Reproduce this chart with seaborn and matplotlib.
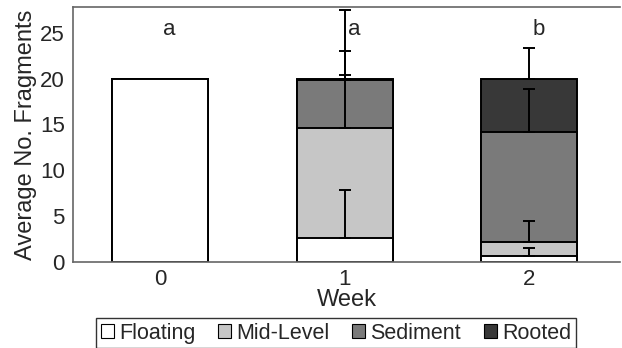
import numpy as np
import pandas as pd
import seaborn as sns
import matplotlib.pyplot as plt
from matplotlib.patches import Patch

# Data
weeks = ['0', '1', '2']
floating = [20.0, 2.6, 0.6]
mid_level = [0.0, 12.0, 1.6]
sediment = [0.0, 5.2, 12.0]
rooted = [0.0, 0.2, 5.8]

floating_err = [0.0, 5.2, 0.9]
mid_err = [0.0, 5.8, 2.3]
sediment_err = [0.0, 3.2, 4.7]
rooted_err = [0.0, 7.5, 3.3]

letters = ['a', 'a', 'b']
layers = ['Floating', 'Mid-Level', 'Sediment', 'Rooted']
colors = ['#ffffff', '#c6c6c6', '#7a7a7a', '#383838']

sns.set_style('white')
plt.rcParams['font.family'] = ['Liberation Sans', 'DejaVu Sans']

values = np.array([floating, mid_level, sediment, rooted])
errors = np.array([floating_err, mid_err, sediment_err, rooted_err])
cum = values.cumsum(axis=0)

fig, ax = plt.subplots(figsize=(6.22, 3.48), dpi=100)
fig.subplots_adjust(left=73/622, right=620/622, top=1-7/348, bottom=1-262/348)

# draw stacked bars from the top layer down so each covers the one above
for i in range(3, -1, -1):
    df = pd.DataFrame({'week': weeks, 'top': cum[i]})
    sns.barplot(data=df, x='week', y='top', order=weeks, color=colors[i],
                saturation=1, width=0.52, edgecolor='black', linewidth=1.4,
                errorbar=None, ax=ax)

# one-sided error bars from the top of each segment
for i in range(4):
    for j in range(3):
        if errors[i, j] > 0:
            ax.errorbar(j, cum[i, j], yerr=[[0], [errors[i, j]]], fmt='none',
                        ecolor='black', elinewidth=1.4, capsize=4, capthick=1.4)

for j, t in enumerate(letters):
    ax.text(j + 0.05, 25.3, t, ha='center', va='center', fontsize=16)

ax.set_ylim(0, 27.8)
ax.set_xlim(-0.47, 2.49)
ax.set_yticks([0, 5, 10, 15, 20, 25])
ax.set_xticks([0.5, 1.5], minor=True)
ax.tick_params(axis='x', which='major', length=0, labelsize=16, pad=5)
ax.tick_params(axis='x', which='minor', length=4, color='#666666', direction='out')
ax.tick_params(axis='y', length=4, color='#666666', direction='out', labelsize=16, pad=2)
ax.set_xlabel('Week', fontsize=17, labelpad=-1)
ax.set_ylabel('Average No. Fragments', fontsize=17, labelpad=2)

for s in ['left', 'bottom', 'top']:
    ax.spines[s].set_color('#666666')
    ax.spines[s].set_linewidth(1.2)
ax.spines['right'].set_visible(False)

handles = [Patch(facecolor=c, edgecolor='black', linewidth=0.8, label=l)
           for c, l in zip(colors, layers)]
leg = fig.legend(handles=handles, loc='upper center', ncol=4,
                 bbox_to_anchor=(336/622, 1-318/348), fontsize=15.5,
                 frameon=True, fancybox=False, edgecolor='black',
                 handlelength=0.6, handleheight=0.6, handletextpad=0.25,
                 columnspacing=1.05, borderpad=0.22, borderaxespad=0)
leg.get_frame().set_linewidth(1.0)

plt.savefig('out.png', dpi=100)
